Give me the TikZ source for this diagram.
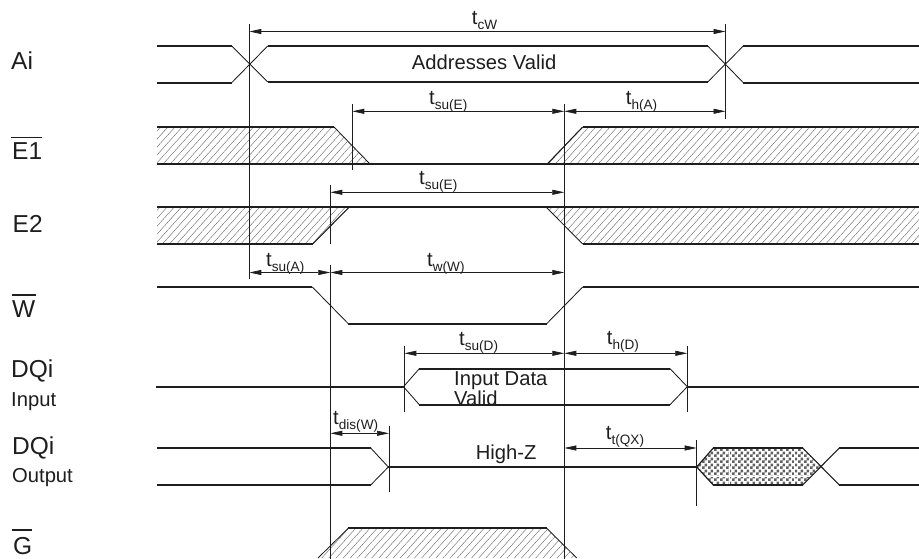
\documentclass[tikz,border=0pt]{standalone}
\usepackage{fontspec}
\setmainfont{Liberation Sans}
\usetikzlibrary{arrows.meta,patterns,patterns.meta}
\definecolor{ink}{HTML}{1E1E1E}
\pgfdeclarepatternformonly{checker}{\pgfqpoint{0pt}{0pt}}{\pgfqpoint{6pt}{6pt}}{\pgfqpoint{6pt}{6pt}}{%
  \pgfpathrectangle{\pgfqpoint{0pt}{0pt}}{\pgfqpoint{3pt}{3pt}}%
  \pgfpathrectangle{\pgfqpoint{3pt}{3pt}}{\pgfqpoint{3pt}{3pt}}%
  \pgfusepath{fill}}
\newcommand{\tsym}[1]{\fontsize{20.3}{22}\selectfont t\raisebox{-5pt}{\fontsize{13.6}{15}\selectfont #1}}
\tikzset{
  x=1pt,y=-1pt,
  sig/.style={line width=1.7pt,color=ink},
  edgeline/.style={line width=0.85pt,color=ink},
  guide/.style={line width=0.85pt,color=ink},
  dim/.style={line width=0.7pt,color=ink,{Triangle[length=12pt,width=5pt]}-{Triangle[length=12pt,width=5pt]}},
  hatch/.style={pattern={Lines[angle=48,distance=5.3pt,line width=0.4pt]},pattern color=black!60},
  cross/.style={pattern=checker,pattern color=black!62},
  big/.style={anchor=base west,inner sep=0pt,text=ink,font=\fontsize{24.5}{26}\selectfont},
  small/.style={anchor=base west,inner sep=0pt,text=ink,font=\fontsize{20.2}{22}\selectfont},
  tlab/.style={anchor=base west,inner sep=0pt,text=ink},
  bar/.style={line width=1.1pt,color=ink}
}
\begin{document}
\begin{tikzpicture}
\useasboundingbox (0,0) rectangle (919,559);
\fill[white] (0,0) rectangle (919,559);
% hatched regions
\fill[hatch] (157,127)--(334,127)--(370,164)--(157,164)--cycle;
\fill[hatch] (547.3,164)--(582.7,127)--(919,127)--(919,164)--cycle;
\fill[hatch] (157,207)--(349.3,207)--(312.7,244)--(157,244)--cycle;
\fill[hatch] (546,207)--(919,207)--(919,244)--(582.7,244)--cycle;
\fill[hatch] (348.3,528.3)--(546.7,528.3)--(576.7,558)--(318,558)--cycle;
\fill[cross] (696.7,467)--(713.3,448)--(802.7,448)--(820.7,467)--(802.7,485)--(713.3,485)--cycle;
\draw[white,line width=0.6pt] (729,449)--(729,484) (767,449)--(767,484) (794,449)--(794,484) (706,476)--(811,476);
% texts
\node[small] (addr) at (411.7,70) {Addresses Valid};
\node[small] (inp1) at (454,385) {Input Data};
\node[small] (inp2) at (454,405) {Valid};
\node[small] (hiz) at (475.7,459) {High-Z};
\node[big] (ai) at (11,70) {Ai};
\node[big] (e1) at (12,160) {E1};
\node[big] (e2) at (12.5,232.7) {E2};
\node[big] (w) at (12,317) {W};
\node[big] (dq1) at (11,377) {DQi};
\node[small] (dq1s) at (11,406) {Input};
\node[big] (dq2) at (12,454) {DQi};
\node[small] (dq2s) at (12,482) {Output};
\node[big] (g) at (13,554) {G};
\draw[bar] (11,137.3)--(42,137.3);
\draw[bar,line width=1.5pt] (12,295)--(36,295);
\draw[bar,line width=1.5pt] (12,530)--(32,530);
\node[tlab] (tcw) at (471.7,25) {\tsym{cW}};
\node[tlab] (tsue1) at (429,105) {\tsym{su(E)}};
\node[tlab] (tha) at (625.7,105) {\tsym{h(A)}};
\node[tlab] (tsue2) at (419,185) {\tsym{su(E)}};
\node[tlab] (tsua) at (266,266.5) {\tsym{su(A)}};
\node[tlab] (tww) at (427,266) {\tsym{w(W)}};
\node[tlab] (tsud) at (459,345.7) {\tsym{su(D)}};
\node[tlab] (thd) at (606.7,344) {\tsym{h(D)}};
\node[tlab] (tdis) at (333,424.5) {\tsym{dis(W)}};
\node[tlab] (ttqx) at (605.7,439) {\tsym{t(QX)}};
% Ai
\draw[sig] (157,46)--(231.7,46);
\draw[sig] (157,82.7)--(231.7,82.7);
\draw[edgeline] (231.7,46)--(267.7,82);
\draw[edgeline] (231.7,82.7)--(267.7,46);
\draw[sig] (267.7,46)--(707.7,46);
\draw[sig] (267.7,82)--(707.7,82);
\draw[edgeline] (707.7,46)--(743.3,82.7);
\draw[edgeline] (707.7,82)--(743.3,46);
\draw[sig] (743.3,46)--(919,46);
\draw[sig] (743.3,82.7)--(919,82.7);
% E1
\draw[sig] (157,127)--(334,127);
\draw[sig] (157,164)--(919,164);
\draw[edgeline] (334,127)--(370,164);
\draw[edgeline,line width=1.1pt] (547.3,164)--(582.7,127);
\draw[sig] (582.7,127)--(919,127);
% E2
\draw[sig] (157,207)--(919,207);
\draw[sig] (157,244)--(312.7,244);
\draw[edgeline,line width=1.1pt] (312.7,244)--(349.3,207);
\draw[edgeline] (546,207)--(582.7,244);
\draw[sig] (582.7,244)--(919,244);
% W
\draw[sig] (157,287)--(312.3,287);
\draw[edgeline] (312.3,287)--(348.3,323.7);
\draw[sig] (348.3,323.7)--(546.7,323.7);
\draw[edgeline] (546.7,323.7)--(582.7,287);
\draw[sig] (582.7,287)--(919,287);
% DQi input
\draw[sig] (156,386.7)--(403.5,386.7);
\draw[edgeline] (403.5,386.7)--(419.3,368.7);
\draw[edgeline] (403.5,386.7)--(419.3,404.7);
\draw[sig] (419.3,368.7)--(670,368.7);
\draw[sig] (419.3,404.7)--(670,404.7);
\draw[edgeline] (670,368.7)--(687.3,386.7);
\draw[edgeline] (670,404.7)--(687.3,386.7);
\draw[sig] (687.3,386.7)--(919,386.7);
% DQi output
\draw[sig] (157,448)--(370.7,448);
\draw[sig] (157,485)--(370.7,485);
\draw[edgeline] (370.7,448)--(388.3,467);
\draw[edgeline] (370.7,485)--(388.3,467);
\draw[sig] (388.3,467)--(696.7,467);
\draw[edgeline,line width=1.2pt] (696.7,467)--(713.3,448);
\draw[edgeline,line width=1.2pt] (696.7,467)--(713.3,485);
\draw[sig] (713.3,448)--(802.7,448);
\draw[sig] (713.3,485)--(802.7,485);
\draw[edgeline,line width=1.1pt] (802.7,448)--(839.3,485);
\draw[edgeline,line width=1.1pt] (802.7,485)--(839.3,448);
\draw[sig] (839.3,448)--(919,448);
\draw[sig] (839.3,485)--(919,485);
% G
\draw[sig] (348.3,528.3)--(546.7,528.3);
\draw[edgeline] (348.3,528.3)--(318,558);
\draw[edgeline] (546.7,528.3)--(576.7,558);
% guides
\coordinate (v1t) at (249.3,24);   \coordinate (v1b) at (249.3,278.5);
\coordinate (v2t) at (725.5,24);   \coordinate (v2b) at (725.5,119.5);
\coordinate (v3t) at (352.3,104);  \coordinate (v3b) at (352.3,170);
\coordinate (v4t) at (564.3,104);  \coordinate (v4b) at (564.3,559);
\coordinate (v5t) at (330.3,185);  \coordinate (v5b) at (330.3,244);
\coordinate (v6t) at (330.3,265);  \coordinate (v6b) at (330.3,559);
\coordinate (v7t) at (404.3,346);  \coordinate (v7b) at (404.3,411.7);
\coordinate (v8t) at (687.3,346);  \coordinate (v8b) at (687.3,411.7);
\coordinate (v9t) at (389,426);    \coordinate (v9b) at (389,491.7);
\coordinate (v10t) at (696.7,440); \coordinate (v10b) at (696.7,505.7);
\foreach \n in {1,...,10} \draw[guide] (v\n t)--(v\n b);
% dimension arrows
\coordinate (d1a) at (249.3,31.5);  \coordinate (d1b) at (725.5,31.5);
\coordinate (d2a) at (352.3,111.3); \coordinate (d2b) at (564.3,111.3);
\coordinate (d3a) at (564.3,111.3); \coordinate (d3b) at (725.5,111.3);
\coordinate (d4a) at (330.3,192.3); \coordinate (d4b) at (564.3,192.3);
\coordinate (d5a) at (249.3,272.5); \coordinate (d5b) at (330.3,272.5);
\coordinate (d6a) at (330.3,272.5); \coordinate (d6b) at (564.3,272.5);
\coordinate (d7a) at (404.3,353.3); \coordinate (d7b) at (564.3,353.3);
\coordinate (d8a) at (564.3,353.3); \coordinate (d8b) at (687.3,353.3);
\coordinate (d9a) at (330.3,433.3); \coordinate (d9b) at (389,433.3);
\coordinate (d10a) at (564.3,448);  \coordinate (d10b) at (696.7,448);
\foreach \n in {1,...,10} \draw[dim] (d\n a)--(d\n b);
\end{tikzpicture}
\end{document}
